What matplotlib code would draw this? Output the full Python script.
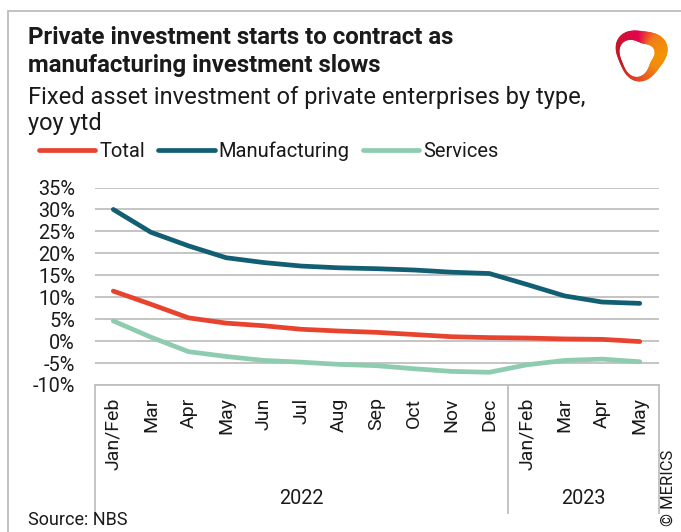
import numpy as np
import matplotlib
matplotlib.use("Agg")
import matplotlib.pyplot as plt
from matplotlib.lines import Line2D
from matplotlib.patches import Rectangle, Polygon
from matplotlib.colors import to_rgb
from matplotlib.transforms import blended_transform_factory

plt.rcParams['font.family'] = ['Roboto', 'DejaVu Sans']

# Data: fixed asset investment of private enterprises, yoy ytd (%)
months = ["Jan/Feb", "Mar", "Apr", "May", "Jun", "Jul", "Aug", "Sep", "Oct", "Nov", "Dec",
          "Jan/Feb", "Mar", "Apr", "May"]
years = ["2022", "2023"]
months_per_year = [11, 4]
total = [11.4, 8.4, 5.3, 4.1, 3.5, 2.7, 2.3, 2.0, 1.5, 1.0, 0.8, 0.7, 0.5, 0.4, -0.1]
manufacturing = [30.0, 24.8, 21.7, 19.0, 17.9, 17.1, 16.7, 16.5, 16.2, 15.7, 15.4, 12.9, 10.3, 8.9, 8.6]
services = [4.6, 0.9, -2.4, -3.5, -4.4, -4.8, -5.3, -5.6, -6.3, -6.9, -7.1, -5.4, -4.4, -4.1, -4.7]
y_ticks = [-10, -5, 0, 5, 10, 15, 20, 25, 30, 35]

RED = "#E8432E"
BLUE = "#125E73"
GREEN = "#8ECCB0"
GRID = "#BFBFBF"
TEXT = "#1A1A1A"

W, H = 681, 532
fig = plt.figure(figsize=(W / 100, H / 100), dpi=100)

def fx(px):
    return px / W

def fy(py):
    return 1 - py / H

# outer frame
fig.add_artist(Rectangle((fx(8), -0.1), 1.2, fy(11) + 0.1, transform=fig.transFigure,
                         fill=False, edgecolor="#BDBDBD", lw=1.3))

# titles
fig.text(fx(28), fy(44), "Private investment starts to contract as", fontsize=17.3,
         fontweight="bold", color=TEXT, va="baseline", ha="left")
fig.text(fx(28), fy(72), "manufacturing investment slows", fontsize=17.3,
         fontweight="bold", color=TEXT, va="baseline", ha="left")
fig.text(fx(28), fy(104), "Fixed asset investment of private enterprises by type,", fontsize=17,
         color=TEXT, va="baseline", ha="left")
fig.text(fx(28), fy(130), "yoy ytd", fontsize=17, color=TEXT, va="baseline", ha="left")

# chart area
left, right, top, bottom = 94.5, 658.6, 187.5, 385
ax = fig.add_axes([fx(left), fy(bottom), fx(right - left), (bottom - top) / H])
x = np.arange(len(months))
lw = 3.4
ax.plot(x, total, color=RED, lw=lw, solid_capstyle="round", solid_joinstyle="round", label="Total", zorder=4)
ax.plot(x, manufacturing, color=BLUE, lw=lw, solid_capstyle="round", solid_joinstyle="round", label="Manufacturing", zorder=4)
ax.plot(x, services, color=GREEN, lw=lw, solid_capstyle="round", solid_joinstyle="round", label="Services", zorder=4)

ax.set_xlim(-0.5, len(months) - 0.5)
ax.set_ylim(-10, 35)
ax.set_yticks(y_ticks)
ax.set_yticklabels([f"{v}%" for v in y_ticks])
ax.yaxis.grid(True, color=GRID, lw=1.3)
ax.set_axisbelow(True)
for s in ["top", "right", "left"]:
    ax.spines[s].set_visible(False)
ax.spines["bottom"].set_color(GRID)
ax.spines["bottom"].set_linewidth(1.3)
ax.tick_params(axis="y", length=0, pad=14, labelsize=14.3, labelcolor=TEXT)
ax.set_xticks(x)
ax.set_xticklabels(months, rotation=90, va="top", ha="center")
ax.tick_params(axis="x", length=0, pad=9, labelsize=14, labelcolor=TEXT)

# year grouping under the month labels
bt = blended_transform_factory(ax.transData, fig.transFigure)
edges = np.concatenate([[0], np.cumsum(months_per_year)]) - 0.5
for e in edges:
    ax.add_artist(Line2D([e, e], [fy(bottom), fy(513)], transform=bt, color=GRID, lw=1.3, clip_on=False))
for i, yr in enumerate(years):
    ax.text((edges[i] + edges[i + 1]) / 2, fy(498), yr, transform=bt, ha="center", va="center",
            fontsize=14.3, color=TEXT)

# legend
handles = [Line2D([], [], color=c, lw=lw, solid_capstyle="round") for c in (RED, BLUE, GREEN)]
fig.legend(handles, ["Total", "Manufacturing", "Services"], loc="center left",
           bbox_to_anchor=(fx(39), fy(151)), ncol=3, frameon=False, fontsize=14.5,
           handlelength=2.8, handletextpad=0.2, columnspacing=0.65, borderpad=0,
           borderaxespad=0, labelcolor=TEXT)

# footer
fig.text(fx(28), fy(520), "Source: NBS", fontsize=13, color=TEXT, va="center", ha="left")
fig.text(fx(668), fy(526), "© MERICS", fontsize=12, color=TEXT, rotation=90, va="bottom", ha="center")

# logo mark: twisted ring
lax = fig.add_axes([fx(612), fy(84), fx(58), 60 / H])
lax.set_xlim(-1, 1)
lax.set_ylim(-1, 1)
lax.set_aspect("equal")
lax.axis("off")
n = 120
th = np.linspace(0, 2 * np.pi, n + 1)
r_out = 0.86 + 0.08 * np.cos(3 * (th - 0.4))
thick = 0.26 + 0.13 * np.cos(th - 0.5)
r_in = r_out - thick
cols_key = [(0.0, "#F39200"), (0.9, "#F07E14"), (1.7, "#E5004B"), (2.6, "#C8102E"),
            (3.6, "#C5161D"), (4.6, "#E2441F"), (5.6, "#F28A0E"), (2 * np.pi, "#F39200")]

def col_at(t):
    for (a, ca), (b, cb) in zip(cols_key[:-1], cols_key[1:]):
        if a <= t <= b:
            f = (t - a) / (b - a)
            c1, c2 = np.array(to_rgb(ca)), np.array(to_rgb(cb))
            return c1 + (c2 - c1) * f
    return to_rgb(cols_key[-1][1])

for i in range(n):
    t0, t1 = th[i], th[i + 1]
    pts = [(r_out[i] * np.cos(t0), r_out[i] * np.sin(t0)),
           (r_out[i + 1] * np.cos(t1), r_out[i + 1] * np.sin(t1)),
           (r_in[i + 1] * np.cos(t1) - 0.05, r_in[i + 1] * np.sin(t1) - 0.05),
           (r_in[i] * np.cos(t0) - 0.05, r_in[i] * np.sin(t0) - 0.05)]
    c = col_at((t0 + t1) / 2)
    lax.add_patch(Polygon(pts, closed=True, facecolor=c, edgecolor=c, lw=0.5))

fig.savefig("out.png", dpi=100)
